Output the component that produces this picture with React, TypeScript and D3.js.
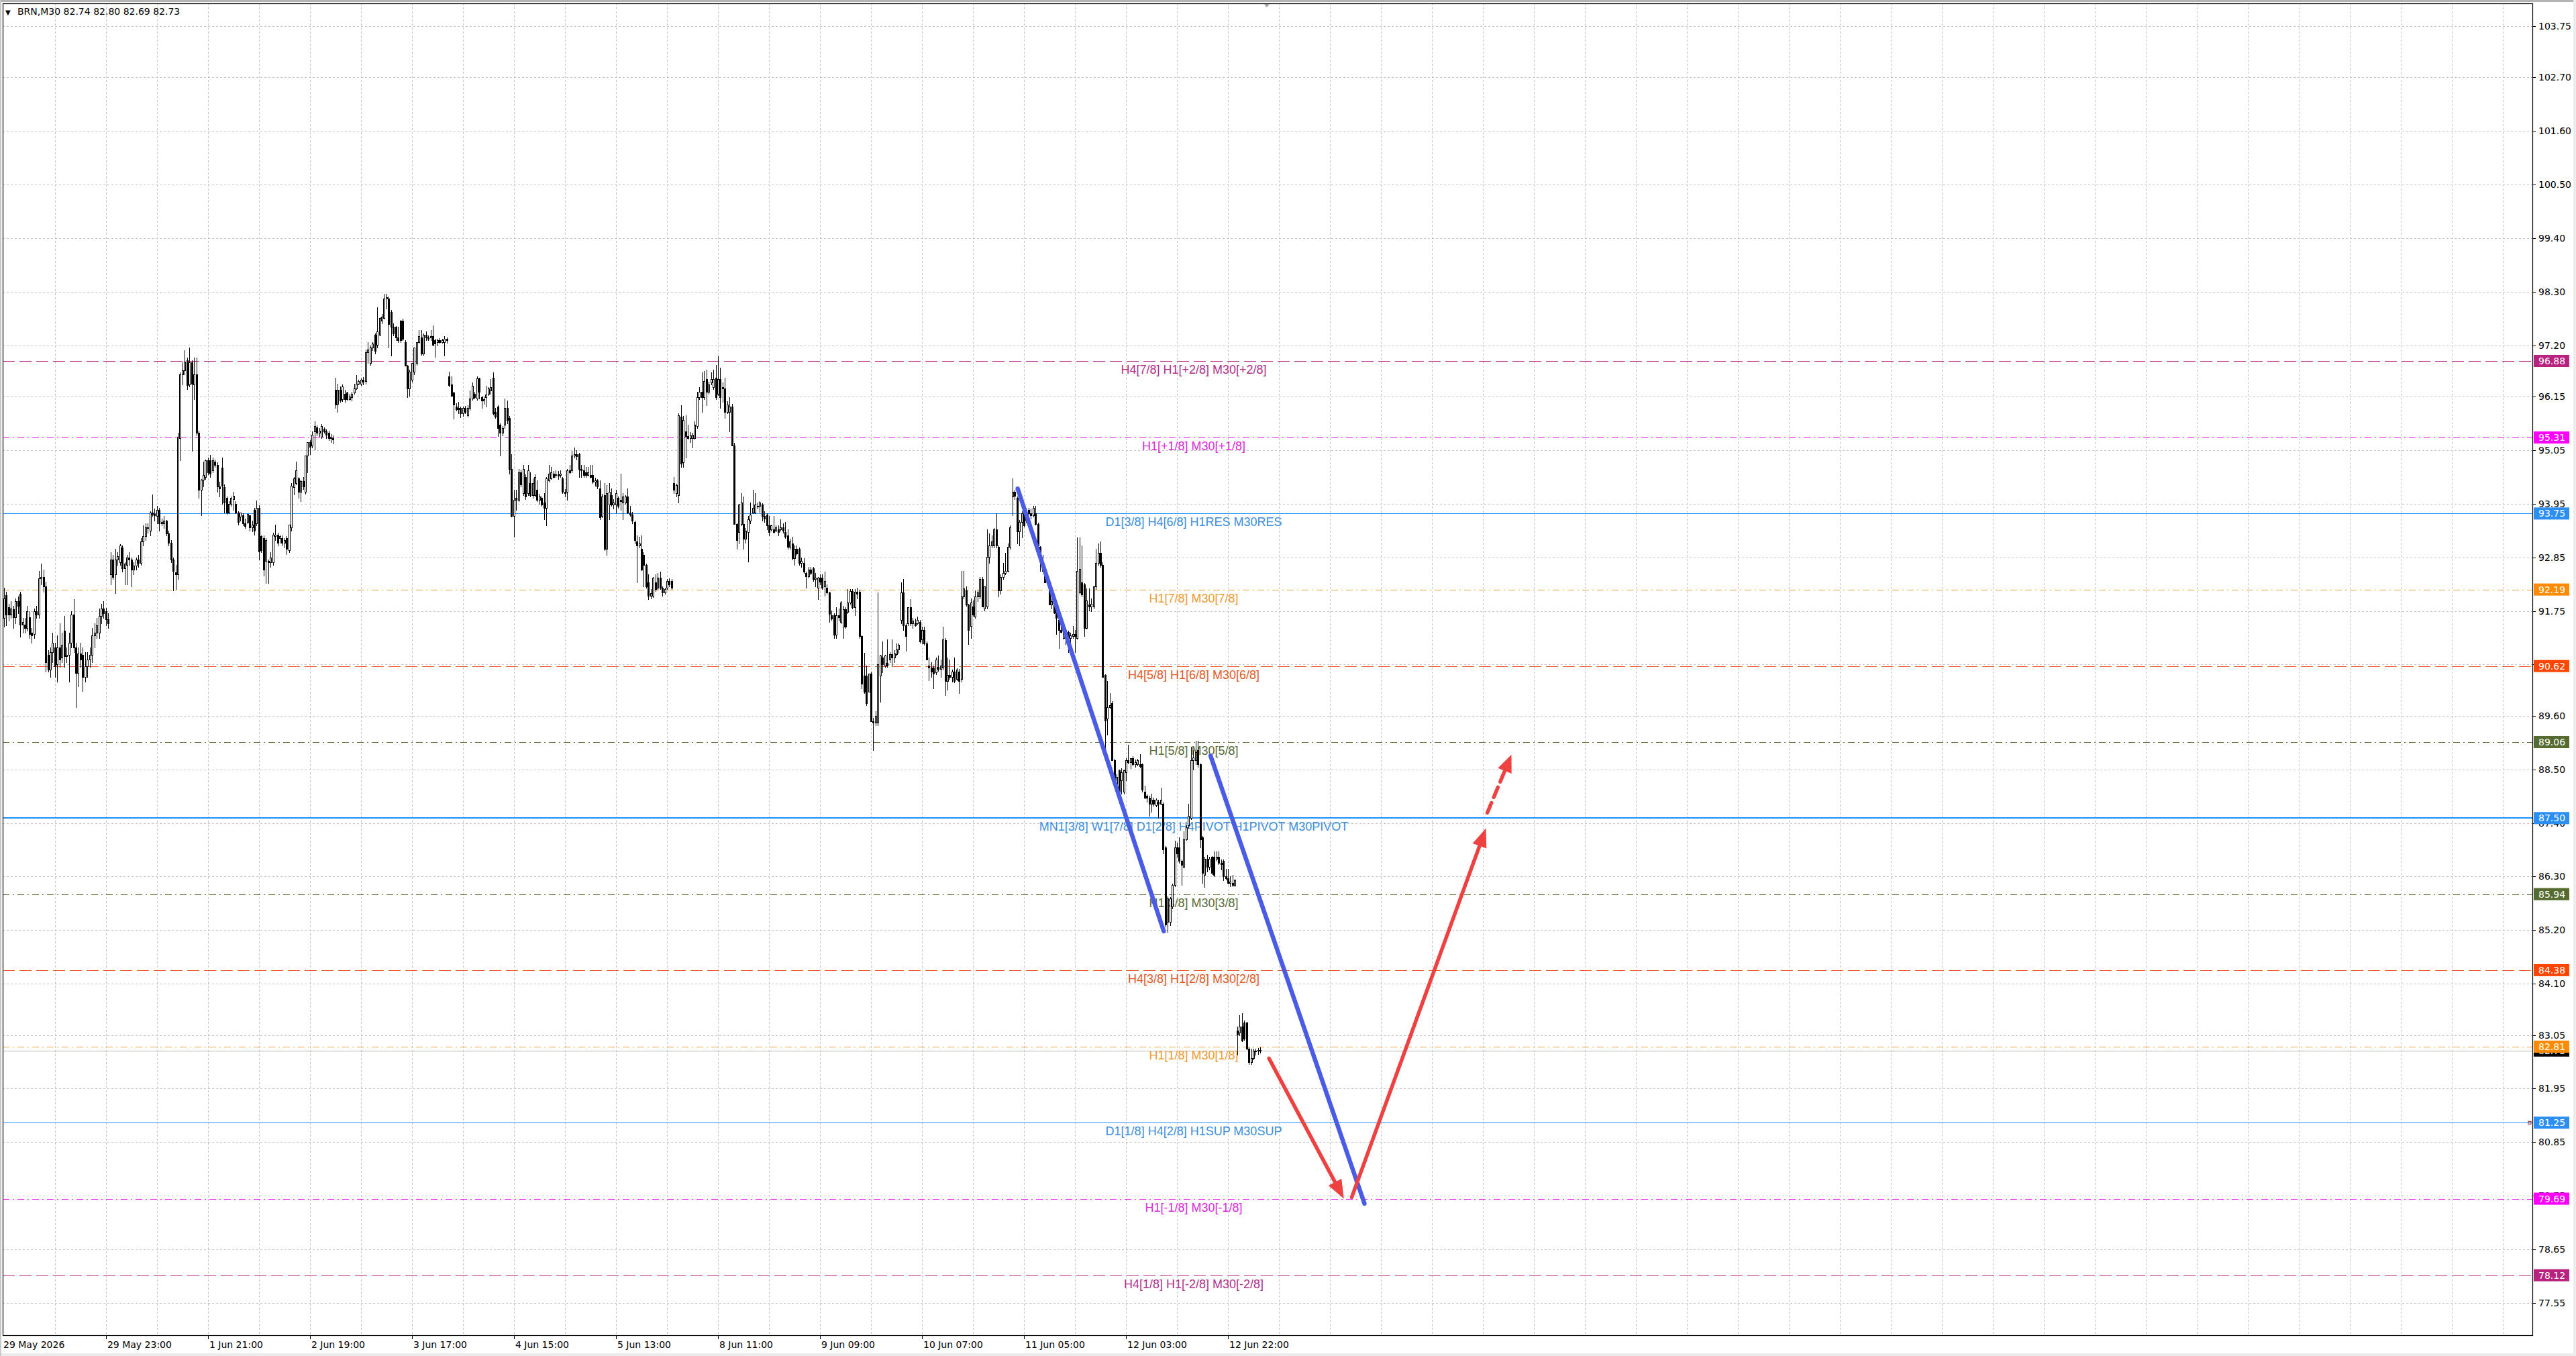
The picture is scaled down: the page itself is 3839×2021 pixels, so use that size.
import * as d3 from "d3";
import { useEffect } from "react";

const W = 3839;
const H = 2021;
const plot = { left: 4, top: 5, right: 3774, bottom: 1990 };

// BRN M30 bars, [open, high, low, close]
const may29 = [
  [91.90,92.25,91.70,92.05],[92.05,92.30,91.85,91.95],[91.60,92.23,91.43,92.00],[92.08,92.15,91.45,91.68],[91.83,91.90,91.55,91.68],[91.68,91.95,91.60,91.80],[91.78,91.85,91.40,91.62],[91.62,92.00,91.50,91.95],
  [91.95,92.05,91.70,91.85],[92.10,92.15,91.22,91.47],[91.47,91.60,91.30,91.52],[91.47,91.60,91.30,91.40],[91.40,91.85,91.35,91.75],[91.62,91.75,91.20,91.28],[91.30,91.40,91.10,91.25],[91.28,91.80,91.20,91.74],
  [91.74,91.85,91.60,91.68],[91.68,92.57,91.60,92.42],[92.42,92.72,92.30,92.45],[92.45,92.60,92.15,92.25],[92.25,92.35,90.50,90.70],[90.85,90.95,90.50,90.55],[90.55,91.00,90.40,90.90],[90.90,91.30,90.70,91.10],
  [91.00,91.10,90.40,90.62],[90.65,91.25,90.30,91.00],[91.00,91.50,90.60,90.75],[90.80,91.30,90.70,91.05],[91.34,91.65,90.60,90.82],[90.82,91.00,90.70,90.85],[90.85,91.30,90.30,91.10],[91.10,91.75,91.00,91.68],
  [91.68,91.99,90.90,91.00],[91.00,91.10,89.77,90.48],[90.48,91.00,90.20,90.88],[90.88,91.10,90.60,90.75],[90.85,91.00,90.10,90.40],[90.40,90.90,90.30,90.62],[90.62,90.90,90.40,90.75],[90.75,91.00,90.60,90.85],
  [90.85,91.40,90.70,91.25],[91.25,91.50,91.00,91.30],[91.30,91.60,91.20,91.45],[91.30,91.80,91.20,91.65],[91.65,91.90,91.50,91.80],[91.80,91.95,91.60,91.70],[91.75,91.82,91.45,91.58],[91.58,91.70,91.40,91.50],
];
const jun01 = [
  [92.50,92.95,92.30,92.81],[92.81,92.90,92.40,92.45],[92.50,93.03,92.11,92.80],[92.80,92.95,92.70,92.88],[92.75,93.12,92.70,93.09],[93.05,93.10,92.55,92.62],[92.62,92.75,92.29,92.72],[92.70,92.90,92.30,92.85],
  [92.85,92.95,92.70,92.80],[92.80,92.85,92.26,92.60],[92.60,92.75,92.50,92.68],[92.68,92.85,92.60,92.80],[92.80,92.90,92.65,92.74],[92.74,93.25,92.70,93.18],[93.18,93.50,93.10,93.28],[93.28,93.55,93.20,93.46],
  [93.46,93.55,93.35,93.46],[93.40,93.80,93.30,93.77],[93.77,94.14,93.70,93.74],[93.74,93.85,93.60,93.71],[93.70,93.90,93.55,93.83],[93.83,93.86,93.40,93.55],[93.55,93.65,93.50,93.58],[93.55,93.70,93.45,93.60],
  [93.60,93.62,93.30,93.34],[93.34,93.40,93.10,93.15],[93.15,93.20,92.75,92.81],[92.81,92.85,92.17,92.57],[92.54,92.70,92.20,92.50],[92.50,95.40,92.40,95.33],[95.30,96.65,94.84,96.60],[96.60,96.85,96.40,96.69],
  [96.69,97.10,96.60,96.87],[96.90,96.95,96.30,96.38],[96.40,97.15,96.35,96.85],[96.85,96.90,95.03,96.41],[96.40,96.95,96.10,96.60],[96.60,96.95,95.35,95.40],[95.40,95.45,94.07,94.23],[94.23,94.45,93.71,94.44],
  [94.44,94.81,94.30,94.54],[94.50,94.86,94.45,94.84],[94.84,94.90,94.55,94.60],[94.84,94.95,94.50,94.57],[94.63,94.90,94.60,94.84],[94.81,94.85,94.70,94.75],[94.75,94.80,94.20,94.30],[94.30,94.40,94.10,94.26],
];
const jun02 = [
  [94.69,94.90,93.95,94.32],[94.29,94.35,93.77,93.98],[94.07,94.10,93.74,93.77],[93.77,94.00,93.75,93.95],[93.95,94.10,93.90,94.07],[94.04,94.20,93.83,94.11],[93.95,94.00,93.75,93.77],[93.77,93.80,93.52,93.58],
  [93.68,93.77,93.60,93.77],[93.71,93.75,93.50,93.55],[93.55,93.64,93.45,93.49],[93.58,93.74,93.55,93.74],[93.71,93.72,93.40,93.46],[93.46,93.60,93.38,93.52],[93.83,93.86,93.31,93.40],[93.55,94.01,93.50,93.86],
  [93.86,93.92,92.81,92.97],[93.28,93.30,92.95,93.00],[93.25,93.30,92.48,92.60],[92.78,93.25,92.32,93.21],[92.78,92.80,92.32,92.75],[92.75,92.95,92.65,92.85],[92.75,93.35,92.70,93.31],[93.28,93.52,93.20,93.31],
  [93.31,93.35,93.10,93.15],[93.25,93.30,93.15,93.28],[93.25,93.30,93.10,93.15],[93.15,93.25,93.05,93.20],[93.25,93.28,92.91,93.03],[93.00,93.52,92.95,93.52],[93.46,94.38,93.40,94.32],[94.29,94.50,94.14,94.47],
  [94.38,94.81,94.35,94.63],[94.47,94.50,94.07,94.20],[94.20,94.44,94.00,94.41],[94.41,94.50,94.25,94.30],[94.20,94.94,94.15,94.94],[94.94,95.21,94.60,95.21],[95.21,95.25,94.97,95.12],[95.15,95.43,95.10,95.37],
  [95.43,95.64,95.06,95.55],[95.52,95.56,95.35,95.40],[95.40,95.50,95.32,95.45],[95.33,95.58,95.30,95.55],[95.49,95.52,95.40,95.43],[95.43,95.47,95.30,95.37],[95.40,95.45,95.25,95.30],[95.30,95.38,95.22,95.33],
  [95.30,95.35,95.18,95.27],
];
const jun03 = [
  [96.29,96.53,95.92,95.98],[96.00,96.41,95.83,96.29],[96.29,96.35,96.04,96.07],[96.10,96.40,96.05,96.35],[96.20,96.29,96.04,96.10],[96.23,96.25,96.08,96.10],[96.10,96.20,96.08,96.15],[96.13,96.25,96.07,96.20],
  [96.23,96.41,96.20,96.32],[96.32,96.59,96.30,96.41],[96.41,96.50,96.40,96.47],[96.41,96.52,96.38,96.50],[96.50,96.55,96.40,96.45],[96.47,97.12,96.41,97.06],[97.06,97.27,96.84,97.12],[96.84,97.20,96.80,97.15],
  [97.15,97.27,97.10,97.24],[97.42,97.45,97.03,97.09],[97.21,97.98,97.15,97.49],[97.42,97.78,97.40,97.76],[97.70,97.85,97.65,97.79],[97.76,98.25,97.75,98.16],[98.16,98.25,97.95,98.19],[98.16,98.20,97.15,97.64],
  [97.89,97.92,96.99,97.58],[97.58,97.65,97.40,97.45],[97.58,97.60,97.30,97.36],[97.36,97.58,97.27,97.30],[97.70,97.72,97.27,97.30],[97.70,97.75,97.30,97.33],[97.27,97.30,96.78,96.78],[96.78,96.80,96.13,96.32],
  [96.32,96.70,96.16,96.66],[96.50,96.84,96.45,96.84],[96.66,97.15,96.60,97.15],[96.84,97.27,96.80,97.27],[97.27,97.52,97.25,97.39],[97.36,97.52,97.00,97.03],[97.03,97.45,97.00,97.42],[97.42,97.48,97.30,97.36],
  [97.36,97.40,97.30,97.33],[97.36,97.52,97.30,97.39],[97.39,97.61,97.19,97.21],[97.30,97.33,96.96,97.24],[97.27,97.33,97.20,97.30],[97.30,97.35,97.25,97.27],[97.27,97.33,97.25,97.30],[97.27,97.39,96.99,97.33],
  [97.33,97.36,97.25,97.30],
];
const jun04 = [
  [96.56,96.66,96.35,96.38],[96.40,96.56,96.16,96.16],[96.23,96.25,95.70,95.98],[95.95,96.01,95.86,95.89],[95.92,96.04,95.80,95.89],[95.92,95.95,95.73,95.80],[95.80,95.95,95.75,95.92],[95.92,95.96,95.80,95.84],
  [95.77,95.97,95.74,95.91],[95.91,96.27,95.88,96.11],[96.11,96.44,96.08,96.37],[96.21,96.24,96.11,96.14],[96.11,96.57,96.08,96.52],[96.52,96.54,96.11,96.24],[96.14,96.17,95.91,96.07],[96.07,96.15,96.00,96.10],
  [96.14,96.37,95.94,96.19],[96.21,96.34,96.18,96.31],[96.27,96.51,96.21,96.34],[96.54,96.64,95.78,95.81],[95.84,95.91,95.71,95.74],[95.94,95.97,95.34,95.50],[95.57,95.60,94.94,95.40],[95.40,95.55,95.35,95.50],
  [95.57,96.11,95.50,95.91],[95.91,96.07,95.60,95.67],[95.71,95.75,94.57,94.67],[94.67,94.97,93.68,93.70],[93.70,94.23,93.27,94.03],[94.07,94.23,93.83,94.03],[94.03,94.67,94.00,94.60],[94.60,94.65,94.30,94.35],
  [94.17,94.74,94.13,94.67],[94.50,94.55,94.05,94.10],[94.17,94.74,94.13,94.64],[94.37,94.60,94.10,94.13],[94.13,94.47,94.07,94.37],[94.13,94.55,94.10,94.50],[94.23,94.43,94.00,94.03],[94.03,94.15,93.95,94.10],
  [94.07,94.10,93.90,93.93],[93.97,94.17,93.63,93.87],[93.87,94.50,93.50,94.47],[94.43,94.74,94.40,94.57],[94.47,94.70,94.45,94.60],[94.57,94.62,94.48,94.50],[94.54,94.64,94.50,94.55],[94.55,94.62,94.45,94.52],
];
const jun05 = [
  [94.54,94.64,94.50,94.57],[94.47,94.50,94.17,94.20],[94.20,94.25,94.10,94.17],[94.20,94.67,94.03,94.64],[94.64,94.74,94.57,94.60],[94.64,95.04,94.60,94.94],[94.94,95.10,94.90,94.97],[94.97,95.05,94.85,94.92],
  [94.97,95.00,94.50,94.67],[94.67,94.74,94.50,94.64],[94.64,94.74,94.50,94.54],[94.60,94.70,94.50,94.54],[94.54,94.70,94.52,94.60],[94.54,94.74,94.48,94.50],[94.54,94.74,94.38,94.40],[94.40,94.48,94.32,94.43],
  [94.43,94.46,94.27,94.30],[94.27,94.43,93.63,93.67],[93.70,94.15,93.67,94.10],[94.13,94.37,93.00,93.03],[93.03,94.33,92.90,94.17],[93.93,94.37,93.63,94.20],[94.13,94.27,93.90,93.93],[93.93,94.05,93.85,93.98],
  [93.93,94.23,93.77,94.17],[94.07,94.10,93.87,93.90],[94.03,94.57,93.83,94.00],[93.97,94.17,93.63,94.10],[93.97,94.13,93.95,94.10],[94.10,94.27,93.75,93.77],[93.77,93.90,93.70,93.73],[93.73,93.78,93.55,93.60],
  [93.57,93.60,93.13,93.20],[93.17,93.30,92.33,93.10],[93.10,93.27,93.05,93.13],[93.03,93.30,92.58,92.60],[92.90,92.96,92.26,92.70],[92.70,92.72,92.23,92.26],[92.33,92.50,91.99,92.06],[92.06,92.20,92.00,92.12],
  [92.06,92.45,92.03,92.43],[92.33,92.50,92.16,92.20],[92.23,92.53,92.20,92.43],[92.43,92.56,92.20,92.23],[92.23,92.25,92.06,92.13],[92.13,92.22,92.10,92.20],[92.23,92.40,92.20,92.36],[92.36,92.42,92.25,92.30],
  [92.36,92.40,92.20,92.23],
];
const jun08 = [
  [94.37,94.50,94.17,94.23],[94.17,94.36,94.10,94.33],[94.13,95.80,93.97,95.77],[95.74,95.97,94.70,94.77],[94.80,95.75,94.70,95.67],[95.44,95.77,94.90,95.34],[95.34,95.57,95.28,95.30],[95.30,95.42,95.22,95.35],
  [95.30,95.40,95.10,95.37],[95.30,95.64,95.28,95.57],[95.54,96.24,95.50,96.14],[96.14,96.34,96.10,96.24],[96.24,96.64,95.84,96.14],[96.14,96.67,96.10,96.47],[96.51,96.70,95.97,96.24],[96.24,96.45,96.20,96.40],
  [96.44,96.64,96.40,96.51],[96.34,96.70,96.30,96.51],[96.54,96.80,96.10,96.14],[96.21,96.98,96.18,96.51],[96.51,96.74,95.91,96.14],[96.34,96.44,96.04,96.31],[96.31,96.54,95.71,95.84],[95.84,96.05,95.80,95.98],
  [95.84,96.14,95.44,95.94],[95.94,96.00,95.14,95.14],[95.14,95.20,93.53,93.53],[93.53,93.55,93.03,93.20],[93.37,93.95,93.13,93.93],[93.53,94.17,93.50,93.97],[93.53,94.10,93.03,93.23],[93.23,93.45,93.15,93.40],
  [93.37,93.70,92.76,93.63],[93.60,93.97,93.55,93.73],[93.77,94.23,93.75,93.87],[93.77,94.17,93.75,93.93],[93.90,93.97,93.85,93.90],[93.90,94.00,93.78,93.97],[93.93,93.96,93.60,93.70],[93.70,93.80,93.58,93.65],
  [93.73,93.75,93.43,93.50],[93.50,93.70,93.30,93.37],[93.43,93.52,93.40,93.50],[93.43,93.70,93.35,93.37],[93.40,93.50,93.38,93.47],[93.43,93.50,93.30,93.37],[93.43,93.63,93.40,93.47],[93.47,93.55,93.35,93.40],
];
const jun09 = [
  [93.37,93.57,93.25,93.27],[93.30,93.43,93.03,93.07],[93.07,93.23,93.03,93.17],[93.13,93.27,92.80,92.83],[92.83,93.10,92.70,93.03],[93.03,93.10,92.90,92.93],[93.03,93.05,92.70,92.73],[92.73,92.85,92.65,92.78],
  [92.73,92.83,92.53,92.56],[92.53,92.56,92.23,92.46],[92.46,92.66,92.43,92.60],[92.60,92.66,92.50,92.53],[92.63,92.66,92.36,92.40],[92.40,92.53,92.26,92.43],[92.23,92.45,91.99,92.43],[92.43,92.50,92.30,92.35],
  [92.43,92.50,92.20,92.23],[92.26,92.56,92.06,92.36],[92.23,92.30,92.10,92.13],[92.13,92.15,91.53,91.69],[91.66,91.76,91.56,91.59],[91.66,91.70,91.19,91.26],[91.26,91.83,91.19,91.66],[91.66,91.80,91.55,91.62],
  [91.53,91.95,91.50,91.93],[91.43,91.85,91.19,91.79],[91.79,91.83,91.40,91.43],[91.73,92.20,91.70,91.93],[91.93,92.20,91.90,92.16],[92.16,92.20,91.80,91.83],[91.83,92.20,91.66,92.15],[92.15,92.22,92.00,92.10],
  [92.15,92.18,91.19,91.23],[91.23,91.25,90.16,90.26],[90.42,90.89,90.06,90.09],[90.42,90.63,89.82,89.86],[90.09,90.46,90.09,90.46],[90.46,90.50,89.49,89.49],[89.49,89.55,88.89,89.46],[89.46,89.70,89.40,89.60],
  [89.46,92.13,89.40,90.66],[90.42,90.85,89.89,90.83],[90.79,91.13,90.49,90.66],[90.63,90.85,90.60,90.83],[90.69,91.16,90.60,90.63],[90.76,90.90,90.70,90.86],[90.86,91.16,90.63,90.79],[90.79,90.95,90.70,90.88],
];
const jun10 = [
  [90.86,91.09,90.83,90.96],[90.96,91.09,90.89,91.06],[91.56,92.33,91.50,92.13],[92.13,92.40,91.36,91.46],[91.46,91.50,90.93,91.23],[91.50,91.83,91.45,91.83],[91.83,91.99,91.45,91.50],[91.50,91.60,91.40,91.55],
  [91.50,91.59,91.44,91.46],[91.50,91.63,91.48,91.56],[91.53,91.56,91.10,91.13],[91.16,91.43,91.09,91.36],[91.36,91.43,91.05,91.09],[91.09,91.12,90.76,90.76],[90.63,90.79,90.32,90.59],[90.59,90.70,90.40,90.50],
  [90.59,90.63,90.16,90.46],[90.49,90.80,90.45,90.76],[90.60,90.83,90.52,90.56],[90.56,90.76,90.39,90.63],[90.59,91.43,90.55,91.16],
];
const jun11 = [
  [91.15,91.20,90.02,90.31],[90.31,90.79,90.14,90.43],[90.43,90.75,90.35,90.39],[90.39,90.55,90.30,90.51],[90.51,90.79,90.28,90.31],[90.35,90.58,90.33,90.55],[90.51,90.56,90.06,90.31],[90.35,92.57,90.30,92.05],
  [92.05,92.57,92.00,92.21],[92.17,92.25,91.85,91.88],[91.88,91.90,91.07,91.36],[91.44,92.00,91.20,91.92],[91.84,91.96,91.65,91.68],[91.64,92.17,91.60,92.05],[92.05,92.17,91.95,92.13],[92.05,92.45,92.00,92.41],
  [92.41,92.45,91.84,91.84],[91.80,92.25,91.76,92.25],[91.84,93.42,91.80,92.86],[92.86,93.34,92.73,93.10],[93.10,93.30,93.05,93.18],[93.10,93.45,93.05,93.42],[93.42,93.75,93.05,93.10],[93.06,93.10,92.05,92.17],
  [92.17,92.50,92.10,92.45],[92.45,92.73,92.40,92.53],[92.53,92.94,92.50,92.57],[92.57,93.14,92.55,93.06],[93.06,93.50,93.02,93.46],[94.10,94.47,93.71,94.19],[94.19,94.23,94.05,94.11],[94.07,94.10,93.14,93.38],
  [93.38,93.62,93.10,93.58],[93.58,93.80,93.26,93.75],[93.79,93.95,93.48,93.50],[93.62,93.86,93.58,93.83],[93.83,93.87,93.73,93.75],[93.75,93.85,93.65,93.72],[93.71,93.91,93.68,93.87],[93.75,93.91,93.52,93.54],
  [93.54,93.56,93.10,93.10],[93.06,93.08,92.57,92.77],[92.69,92.90,92.55,92.57],[92.57,92.59,92.33,92.33],[92.37,92.49,92.30,92.45],[92.29,92.30,91.88,91.88],[91.88,92.00,91.80,91.95],[91.92,91.95,91.70,91.72],
];
const jun12 = [
  [91.80,91.82,91.28,91.60],[91.56,91.60,90.99,91.36],[91.36,91.52,91.30,91.32],[91.20,91.44,91.18,91.44],[91.36,91.40,91.07,91.20],[91.32,91.35,90.91,91.20],[91.20,91.30,91.10,91.25],[91.24,91.44,91.20,91.28],
  [91.28,91.36,90.91,91.24],[91.20,93.26,91.18,92.57],[92.13,93.26,92.10,92.61],[92.33,93.10,92.05,92.09],[92.29,92.32,91.24,91.40],[91.40,92.21,91.38,91.96],[91.88,92.21,91.76,91.84],[91.84,92.00,91.75,91.90],
  [91.84,92.27,91.80,92.25],[92.25,93.02,92.20,92.73],[92.73,93.14,92.70,92.94],[92.94,93.18,92.65,92.69],[92.69,92.75,90.39,90.39],[90.43,90.45,88.89,89.50],[89.54,90.31,89.21,89.78],[89.78,90.06,89.75,89.82],
  [89.86,89.90,88.69,88.69],[88.69,88.72,88.12,88.20],[88.20,88.40,88.10,88.35],[88.48,88.50,88.00,88.04],[88.28,88.52,88.00,88.44],[88.04,88.50,88.00,88.48],[88.44,88.73,88.28,88.69],[88.69,89.01,88.62,88.64],
  [88.64,88.73,88.52,88.73],[88.73,88.77,88.58,88.60],[88.60,88.70,88.55,88.65],[88.60,88.72,88.58,88.69],[88.60,88.81,88.54,88.56],[88.60,88.62,88.04,88.08],[88.04,88.16,87.90,87.92],[87.96,87.98,87.84,87.92],
  [87.92,87.96,87.55,87.79],[87.79,88.00,87.63,87.88],[87.88,87.92,87.75,87.80],[87.76,87.90,87.74,87.88],[87.84,87.88,87.51,87.80],[87.80,88.12,87.78,87.88],[87.79,87.82,86.78,86.86],[86.90,86.92,85.28,85.32],
  [85.37,85.90,85.16,85.85],[85.37,85.88,85.30,85.85],[85.69,86.15,85.65,86.13],[86.13,87.03,86.10,86.90],[86.90,87.00,86.70,86.78],[86.90,87.11,86.58,86.62],[86.62,86.65,86.13,86.54],[86.50,87.23,86.48,87.07],
  [87.07,87.35,87.05,87.31],[87.35,87.79,87.30,87.55],[87.51,88.97,87.48,88.69],[88.69,88.90,88.50,88.75],[88.69,89.09,88.60,88.85],[88.89,89.09,88.55,88.60],[88.60,88.62,86.90,87.07],[87.11,87.13,86.17,86.38],
  [86.34,86.70,86.09,86.66],[86.66,86.75,86.40,86.50],[86.50,86.70,86.45,86.66],[86.70,86.72,86.35,86.38],[86.70,86.82,86.30,86.34],[86.66,86.82,86.62,86.70],[86.70,86.82,86.55,86.58],[86.58,86.65,86.45,86.55],
  [86.62,86.65,86.22,86.30],[86.30,86.46,86.24,86.26],[86.26,86.46,86.15,86.17],[86.17,86.30,86.10,86.20],[86.17,86.34,86.10,86.13],[86.13,86.25,86.10,86.22],
];
const jun15 = [
  [83.14,83.22,82.65,83.06],[83.10,83.46,83.05,83.22],[83.22,83.50,82.92,82.94],[83.30,83.34,82.95,82.98],[83.30,83.32,82.75,82.77],[82.77,82.80,82.45,82.49],
  [82.49,82.77,82.45,82.57],[82.57,82.77,82.55,82.73],[82.73,82.77,82.65,82.72],[82.72,82.78,82.66,82.74],[82.74,82.80,82.69,82.73],
];
const bars = [...may29, ...jun01, ...jun02, ...jun03, ...jun04, ...jun05, ...jun08, ...jun09, ...jun10, ...jun11, ...jun12, ...jun15];

const priceTicks = [103.75,102.70,101.60,100.50,99.40,98.30,97.20,96.15,95.05,93.95,92.85,91.75,90.65,89.60,88.50,87.40,86.30,85.20,84.10,83.05,81.95,80.85,79.75,78.65,77.55];
const timeLabels = ["29 May 2026","29 May 23:00","1 Jun 21:00","2 Jun 19:00","3 Jun 17:00","4 Jun 15:00","5 Jun 13:00","8 Jun 11:00","9 Jun 09:00","10 Jun 07:00","11 Jun 05:00","12 Jun 03:00","12 Jun 22:00"];
const timeLabelBars = [0,46,90,134,178,222,266,310,354,398,442,486,530];

// Murrey math levels
const levelPrices = [96.88,95.31,93.75,92.19,90.62,89.06,87.50,85.94,84.38,82.81,81.25,79.69,78.12];
const levelNames = [
  "H4[7/8] H1[+2/8] M30[+2/8]",
  "H1[+1/8] M30[+1/8]",
  "D1[3/8] H4[6/8] H1RES M30RES",
  "H1[7/8] M30[7/8]",
  "H4[5/8] H1[6/8] M30[6/8]",
  "H1[5/8] M30[5/8]",
  "MN1[3/8] W1[7/8] D1[2/8] H4PIVOT H1PIVOT M30PIVOT",
  "H1[3/8] M30[3/8]",
  "H4[3/8] H1[2/8] M30[2/8]",
  "H1[1/8] M30[1/8]",
  "D1[1/8] H4[2/8] H1SUP M30SUP",
  "H1[-1/8] M30[-1/8]",
  "H4[1/8] H1[-2/8] M30[-2/8]",
];

// drawn forecast, in (bar, price)
const blueTrend = [
  [[439.3, 94.26], [502.3, 85.18]],
  [[522.5, 88.78], [588.9, 79.59]],
];
const redDown = [[547.7, 82.57], [580.0, 79.69]];
const redUp = [[583.4, 79.72], [641.3, 87.29]];
const redUpDashed = [[641.9, 87.61], [652.3, 88.80]];

const STYLE = {
  violet: { line: "#B8268A", text: "#B0308A", box: "#B8237F", dash: "18 7", w: 1 },
  magenta: { line: "#F020F0", text: "#D92AD9", box: "#FF00FF", dash: "10 5 2 5", w: 1 },
  blue: { line: "#1E90FF", text: "#3A8EE0", box: "#2A8EF2", dash: null, w: 1 },
  pivot: { line: "#1E90FF", text: "#3A8EE0", box: "#2A8EF2", dash: null, w: 2 },
  orange: { line: "#F0A030", text: "#F09A30", box: "#FF8C00", dash: "10 5 2 5", w: 1 },
  orangered: { line: "#F05A20", text: "#E2581F", box: "#FF4500", dash: "18 7", w: 1 },
  olive: { line: "#556B2F", text: "#5A6C3A", box: "#556B2F", dash: "10 5 2 5", w: 1 },
};
const levelStyleKeys = ["violet","magenta","blue","orange","orangered","olive","pivot","olive","orangered","orange","blue","magenta","violet"];

const AXIS_FONT = "DejaVu Sans, Verdana, sans-serif";
const LABEL_FONT = "Liberation Sans, Arial, sans-serif";

const x = d3.scaleLinear([0, 1093], [-1, 3775]);
const y = d3.scaleLinear([77.55, 103.75], [1942, 39]);
const crisp = (v: number) => Math.round(v) + 0.5;

function arrow(a: number[], b: number[], len = 28, half = 11) {
  const ax = x(a[0]), ay = y(a[1]), bx = x(b[0]), by = y(b[1]);
  const d = Math.hypot(bx - ax, by - ay);
  const ux = (bx - ax) / d, uy = (by - ay) / d;
  const cx = bx - ux * len, cy = by - uy * len;
  return {
    x1: ax, y1: ay, x2: cx + ux * 2, y2: cy + uy * 2,
    head: `${bx},${by} ${cx - uy * half},${cy + ux * half} ${cx + uy * half},${cy - ux * half}`,
  };
}

export default function App() {
  useEffect(() => {
    document.body.style.margin = "0";
  }, []);

  const last = bars[bars.length - 1];
  const gridX = d3.range(24, 1093, 22);
  const downArrow = arrow(redDown[0], redDown[1]);
  const upArrow = arrow(redUp[0], redUp[1]);
  const dashArrow = arrow(redUpDashed[0], redUpDashed[1], 26, 11);

  return (
    <svg width={W} height={H} style={{ display: "block", position: "absolute", left: 0, top: 0 }}>
      <rect width={W} height={H} fill="#fff" />
      <rect x={0} y={0} width={W} height={3} fill="#b4b4b4" />
      <rect x={0} y={H - 4} width={W} height={4} fill="#ececec" />
      <rect x={W - 4} y={0} width={4} height={H} fill="#ececec" />
      <rect x={0} y={0} width={2} height={H} fill="#c8c8c8" />

      <defs>
        <clipPath id="plotClip">
          <rect x={plot.left} y={plot.top} width={plot.right - plot.left} height={plot.bottom - plot.top} />
        </clipPath>
      </defs>

      <g clipPath="url(#plotClip)">
        {/* grid */}
        {priceTicks.map((p) => (
          <line key={"gy" + p} x1={plot.left} x2={plot.right} y1={crisp(y(p))} y2={crisp(y(p))} stroke="#c4c4c4" strokeDasharray="3 3" />
        ))}
        {gridX.map((i) => (
          <line key={"gx" + i} x1={crisp(x(i))} x2={crisp(x(i))} y1={plot.top} y2={plot.bottom} stroke="#c4c4c4" strokeDasharray="3 3" />
        ))}

        {/* levels */}
        {levelPrices.map((p, k) => {
          const s = STYLE[levelStyleKeys[k]];
          const yy = s.w > 1 ? Math.round(y(p)) : crisp(y(p));
          return (
            <line key={"lv" + p} x1={plot.left} x2={plot.right} y1={yy} y2={yy} stroke={s.line} strokeWidth={s.w} strokeDasharray={s.dash || undefined} />
          );
        })}
        <line x1={plot.left} x2={plot.right} y1={crisp(y(last[3]))} y2={crisp(y(last[3]))} stroke="#b8b8b8" strokeWidth={1} />
        {levelPrices.map((p, k) => (
          <text key={"lt" + p} x={1779} y={y(p) + 19} textAnchor="middle" fontFamily={LABEL_FONT} fontSize={18} fill={STYLE[levelStyleKeys[k]].text}>
            {levelNames[k]}
          </text>
        ))}

        {/* candles */}
        {bars.map((b, i) => {
          const [o, h, l, c] = b;
          const cx = Math.round(x(i));
          const top = Math.round(y(Math.max(o, c)));
          const bot = Math.round(y(Math.min(o, c)));
          const up = c >= o;
          return (
            <g key={"c" + i}>
              <line x1={cx + 0.5} x2={cx + 0.5} y1={Math.round(y(h))} y2={Math.round(y(l)) + 1} stroke="#000" strokeWidth={1} />
              <rect x={cx - 0.5} y={top + 0.5} width={2} height={Math.max(bot - top, 1)} fill={up ? "#fff" : "#000"} stroke="#000" strokeWidth={1} />
            </g>
          );
        })}

        {/* drawn trend lines */}
        {blueTrend.map((seg, k) => (
          <line key={"bt" + k} x1={x(seg[0][0])} y1={y(seg[0][1])} x2={x(seg[1][0])} y2={y(seg[1][1])} stroke="#4A5CE6" strokeWidth={6.5} strokeLinecap="round" />
        ))}
        {[downArrow, upArrow].map((a, k) => (
          <g key={"ra" + k}>
            <line x1={a.x1} y1={a.y1} x2={a.x2} y2={a.y2} stroke="#EE4242" strokeWidth={5.5} strokeLinecap="round" />
            <polygon points={a.head} fill="#EE4242" />
          </g>
        ))}
        <line x1={dashArrow.x1} y1={dashArrow.y1} x2={dashArrow.x2} y2={dashArrow.y2} stroke="#EE4242" strokeWidth={5.5} strokeDasharray="16 9" strokeLinecap="round" />
        <polygon points={dashArrow.head} fill="#EE4242" />
      </g>

      {/* frame */}
      <rect x={plot.left + 0.5} y={plot.top + 0.5} width={plot.right - plot.left} height={plot.bottom - plot.top} fill="none" stroke="#000" strokeWidth={1.2} />
      <polygon points={`${x(545) + 2},${plot.top + 1} ${x(545) + 10},${plot.top + 1} ${x(545) + 6},${plot.top + 6}`} fill="#a0a0a0" />
      <rect x={plot.right - 6} y={y(81.25) - 2} width={4} height={4} fill="none" stroke="#8b1a1a" strokeWidth={1} />

      {/* title */}
      <text x={8} y={22} fontFamily={AXIS_FONT} fontSize={10} fill="#000">▼</text>
      <text x={26} y={22} fontFamily={AXIS_FONT} fontSize={14} fill="#000">
        {`BRN,M30  ${last[0].toFixed(2)} ${last[1].toFixed(2)} ${last[2].toFixed(2)} ${last[3].toFixed(2)}`}
      </text>

      {/* price axis */}
      {priceTicks.map((p) => (
        <g key={"pt" + p}>
          <line x1={plot.right} x2={plot.right + 5} y1={crisp(y(p))} y2={crisp(y(p))} stroke="#000" />
          <text x={3783} y={y(p) + 5} fontFamily={AXIS_FONT} fontSize={14} fill="#000">{p.toFixed(2)}</text>
        </g>
      ))}
      <rect x={3776} y={y(last[3]) - 9} width={53} height={18} fill="#000" />
      <text x={3783} y={y(last[3]) + 5} fontFamily={AXIS_FONT} fontSize={14} fill="#fff">{last[3].toFixed(2)}</text>
      {levelPrices.map((p, k) => (
        <g key={"lb" + p}>
          <rect x={3776} y={y(p) - 9} width={53} height={18} fill={STYLE[levelStyleKeys[k]].box} />
          <text x={3783} y={y(p) + 5} fontFamily={AXIS_FONT} fontSize={14} fill="#fff">{p.toFixed(2)}</text>
        </g>
      ))}

      {/* time axis */}
      {timeLabelBars.map((i, k) => (
        <g key={"tl" + k}>
          {k > 0 && <line x1={crisp(x(i))} x2={crisp(x(i))} y1={plot.bottom} y2={plot.bottom + 6} stroke="#000" />}
          <text x={k === 0 ? plot.left + 1 : x(i) + 2} y={2009} fontFamily={AXIS_FONT} fontSize={14} fill="#000">
            {timeLabels[k]}
          </text>
        </g>
      ))}
    </svg>
  );
}
